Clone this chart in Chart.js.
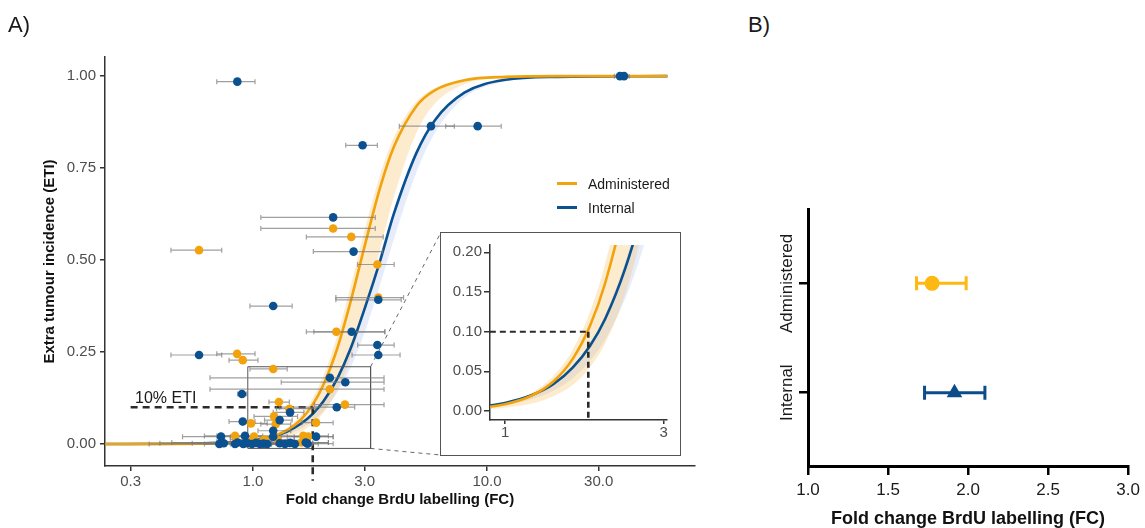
<!DOCTYPE html>
<html><head><meta charset="utf-8">
<script src="https://cdn.jsdelivr.net/npm/chart.js@4.4.1/dist/chart.umd.min.js"></script>
<style>
html,body{margin:0;padding:0;background:#fff;}
#wrap{position:relative;width:1145px;height:528px;overflow:hidden;font-family:"Liberation Sans",Arial,Helvetica,sans-serif;background:#fff;}
canvas{position:absolute;}
.lbl{position:absolute;color:#1a1a1a;white-space:nowrap;line-height:1;}
.leg{position:absolute;height:3px;width:20px;}
#insetBox{position:absolute;left:440px;top:232px;width:239px;height:222px;border:1px solid #555;background:#fff;}
</style></head><body>
<div id="wrap">
<canvas id="cA" style="left:0;top:0" width="720" height="528"></canvas>
<div id="insetBox"><canvas id="cI" style="left:0;top:0" width="239" height="222"></canvas></div>
<canvas id="cB" style="left:740px;top:190px" width="405" height="338"></canvas>
<div class="lbl" style="left:8px;top:14px;font-size:22px;">A)</div>
<div class="lbl" style="left:748px;top:14px;font-size:22px;">B)</div>
<div class="lbl" style="left:135px;top:390px;font-size:16px;">10% ETI</div>
<div class="leg" style="left:557px;top:182px;background:#F2A20C"></div>
<div class="lbl" style="left:588px;top:177px;font-size:14px;">Administered</div>
<div class="leg" style="left:557px;top:206px;background:#0B5190"></div>
<div class="lbl" style="left:588px;top:201px;font-size:14px;">Internal</div>
</div>
<script>
// ---------- DATA ----------
const fcGrid      = [0.233,0.5,0.8,1.0,1.2,1.4,1.6,1.8,2.0,2.3,2.6,3.0,3.5,4.0,5.0,6.0,8.0,12,20,59];
const adminFit    = [0,0.0004,0.0032,0.0086,0.0192,0.0375,0.066,0.107,0.161,0.263,0.382,0.538,0.699,0.808,0.919,0.962,0.989,0.998,1.0,1.0];
const adminLo     = [0,0.0002,0.0016,0.0042,0.0094,0.0187,0.033,0.055,0.085,0.148,0.231,0.362,0.531,0.672,0.847,0.926,0.978,0.996,1.0,1.0];
const adminHi     = [0,0.0005,0.0038,0.0103,0.0228,0.0444,0.0776,0.1245,0.1855,0.298,0.424,0.582,0.734,0.834,0.931,0.968,0.991,0.998,1.0,1.0];
const internalFit = [0,0.0008,0.0045,0.0102,0.0198,0.034,0.055,0.082,0.116,0.180,0.256,0.368,0.5,0.626,0.792,0.881,0.955,0.990,0.998,1.0];
const internalLo  = [0,0.0006,0.0034,0.0077,0.0149,0.026,0.0417,0.063,0.090,0.142,0.205,0.304,0.435,0.557,0.740,0.847,0.941,0.986,0.998,1.0];
const internalHi  = [0,0.0009,0.005,0.0108,0.0208,0.036,0.0574,0.0855,0.121,0.188,0.266,0.380,0.519,0.638,0.80,0.886,0.957,0.991,0.998,1.0];

const adminX   = [0.588,2.20,2.63,3.40,3.43,0.855,0.904,1.22,2.27,2.13,2.47,1.29,1.43,1.23,0.98,1.25,1.86,0.838,1.01,1.64,1.72,1.61,0.98,1.28,1.12,0.93];
const adminY   = [0.527,0.586,0.563,0.488,0.398,0.245,0.228,0.204,0.305,0.149,0.107,0.114,0.096,0.075,0.056,0.054,0.058,0.022,0.020,0.022,0.020,0.004,0.006,0.010,0.012,0.002];
const adminXlo = [0.446,1.08,1.69,2.80,2.26,0.70,0.79,0.97,1.69,0.655,1.83,1.17,1.26,1.01,0.90,1.08,1.62,0.62,0.80,1.32,1.40,1.20,0.70,0.92,0.80,0.40];
const adminXhi = [0.735,3.33,3.60,4.01,4.40,1.02,1.05,1.40,3.66,3.63,3.63,1.43,1.86,1.55,1.15,1.45,2.20,1.10,1.30,2.10,2.20,2.10,1.40,1.60,1.50,1.80];

const intX   = [0.857,2.94,5.76,9.12,37.0,38.5,2.20,2.69,3.43,1.22,2.64,3.40,3.43,0.588,2.13,2.48,0.897,2.28,1.44,0.904,1.30,1.22,0.73,0.924,1.22,1.86,0.718,0.75,0.838,0.86,0.909,0.95,0.99,1.03,1.07,1.11,1.15,1.30,1.37,1.44,1.51,1.68,1.71];
const intY   = [0.985,0.812,0.864,0.864,1.0,1.0,0.616,0.523,0.392,0.375,0.305,0.269,0.242,0.242,0.180,0.168,0.136,0.100,0.086,0.061,0.065,0.036,0.020,0.022,0.020,0.020,0.0,0.002,0.0,0.004,0.0,0.002,0.0,0.003,0.0,0.001,0.0,0.002,0.0,0.003,0.0,0.004,0.001];
const intXlo = [0.70,2.49,4.22,6.66,35.0,36.5,1.08,1.81,2.26,0.97,1.82,2.80,2.65,0.446,0.655,1.32,0.86,1.30,1.22,0.79,1.12,1.05,0.50,0.70,0.90,1.50,0.36,0.55,0.62,0.45,0.70,0.75,0.80,0.82,0.85,0.90,0.95,1.05,1.10,1.15,1.20,1.35,1.40];
const intXhi = [1.02,3.40,7.25,11.5,39.0,40.5,3.33,3.58,4.30,1.47,3.66,4.01,4.25,0.735,3.63,3.63,0.94,2.72,1.65,1.02,1.47,1.45,1.00,1.20,1.60,2.20,1.50,1.00,1.10,1.20,1.20,1.25,1.30,1.35,1.40,1.45,1.50,1.60,1.70,1.80,1.90,2.10,2.20];

const etiLevel = 0.1;
const etiStartFC = 0.3;
const fcAt10 = 1.8;
const zoomX = [0.95,3.18];
const zoomY = [-0.012,0.21];
const connectorEnd = {x:6.34, yTop:0.574, yBottom:-0.03};

const xTicksA = [0.3,1,3,10,30];
const xTickLabelsA = ['0.3','1.0','3.0','10.0','30.0'];
const yTicksA = [0,0.25,0.5,0.75,1];
const yTickLabelsA = ['0.00','0.25','0.50','0.75','1.00'];

const insetXTicks = [1,3];
const insetXTickLabels = ['1','3'];
const insetYTicks = [0,0.05,0.1,0.15,0.2];
const insetYTickLabels = ['0.00','0.05','0.10','0.15','0.20'];
const insetFC10 = 1.78;

const bCategories = ['Internal','Administered'];
const bCatPos = [1,2];
const bMean = [1.915,1.775];
const bLo = [1.728,1.678];
const bHi = [2.105,1.988];
const bXTicks = [1,1.5,2,2.5,3];
const bXTickLabels = ['1.0','1.5','2.0','2.5','3.0'];

// ---------- STYLE ----------
const ORANGE='#F2A20C', BLUE='#0B5190';
const ORANGE_B='#FDB912', BLUE_B='#0C4C8A';
Chart.defaults.font.family = "'Liberation Sans', Arial, Helvetica, sans-serif";
Chart.defaults.color = '#4d4d4d';
Chart.defaults.animation = false;

const pts = (xs, ys) => xs.map((x,i)=>({x, y: ys[i]}));
const hidden = {pointRadius:0, borderWidth:0, fill:false};

function bandSets(){
  return [
    {type:'line', data:pts(fcGrid, internalLo), ...hidden, cubicInterpolationMode:'monotone', order:20},
    {type:'line', data:pts(fcGrid, internalHi), ...hidden, fill:'-1', backgroundColor:'rgba(170,185,240,0.28)', cubicInterpolationMode:'monotone', order:19},
    {type:'line', data:pts(fcGrid, adminLo), ...hidden, cubicInterpolationMode:'monotone', order:18},
    {type:'line', data:pts(fcGrid, adminHi), ...hidden, fill:'-1', backgroundColor:'rgba(245,190,90,0.30)', cubicInterpolationMode:'monotone', order:17},
    {type:'line', data:pts(fcGrid, internalFit), borderColor:BLUE, borderWidth:2.6, pointRadius:0, fill:false, cubicInterpolationMode:'monotone', order:12},
    {type:'line', data:pts(fcGrid, adminFit), borderColor:ORANGE, borderWidth:2.6, pointRadius:0, fill:false, cubicInterpolationMode:'monotone', order:11},
  ];
}

function fixedTicks(vals, labels){
  return {
    afterBuildTicks: s => { s.ticks = vals.map(v=>({value:v})); },
    cb: (v) => { const i = vals.findIndex(t => Math.abs(t - v) < 1e-9); return i>=0 ? labels[i] : ''; }
  };
}

// ---------- PANEL A ----------
const ADMIN_SCATTER_INDEX = 11;
const errPluginA = {
  id:'errA',
  beforeDatasetDraw(chart, args){
    if (args.index !== ADMIN_SCATTER_INDEX) return;
    const {ctx, chartArea:a, scales:{x, y}} = chart;
    ctx.save();
    ctx.beginPath(); ctx.rect(a.left, a.top, a.right-a.left, a.bottom-a.top); ctx.clip();
    ctx.strokeStyle = 'rgba(120,120,120,0.7)'; ctx.lineWidth = 1.2;
    const draw = (xs, ys, lo, hi) => {
      for (let i=0;i<xs.length;i++){
        const yp = y.getPixelForValue(ys[i]);
        const x1 = x.getPixelForValue(lo[i]), x2 = x.getPixelForValue(hi[i]);
        ctx.beginPath();
        ctx.moveTo(x1, yp); ctx.lineTo(x2, yp);
        ctx.moveTo(x1, yp-2.5); ctx.lineTo(x1, yp+2.5);
        ctx.moveTo(x2, yp-2.5); ctx.lineTo(x2, yp+2.5);
        ctx.stroke();
      }
    };
    draw(adminX, adminY, adminXlo, adminXhi);
    draw(intX, intY, intXlo, intXhi);
    ctx.restore();
  }
};

const xA = fixedTicks(xTicksA, xTickLabelsA), yA = fixedTicks(yTicksA, yTickLabelsA);
const DASH = {borderColor:'#2b2b2b', borderWidth:2.6, borderDash:[7,5], pointRadius:0, fill:false, order:5};
new Chart(document.getElementById('cA'), {
  type:'scatter',
  data:{ datasets:[
    ...bandSets(),
    {type:'line', data:[{x:etiStartFC,y:etiLevel},{x:fcAt10,y:etiLevel}], ...DASH},
    {type:'line', data:[{x:fcAt10,y:etiLevel},{x:fcAt10,y:-0.1}], ...DASH, clip:false},
    {type:'line', data:[{x:zoomX[0],y:zoomY[1]},{x:zoomX[1],y:zoomY[1]},{x:zoomX[1],y:zoomY[0]},{x:zoomX[0],y:zoomY[0]},{x:zoomX[0],y:zoomY[1]}],
      borderColor:'#555', borderWidth:1, pointRadius:0, fill:false, order:6},
    {type:'line', data:[{x:zoomX[1],y:zoomY[1]},{x:connectorEnd.x,y:connectorEnd.yTop}], borderColor:'#666', borderWidth:1, borderDash:[4,4], pointRadius:0, fill:false, order:6},
    {type:'line', data:[{x:zoomX[1],y:zoomY[0]},{x:connectorEnd.x,y:connectorEnd.yBottom}], borderColor:'#666', borderWidth:1, borderDash:[4,4], pointRadius:0, fill:false, order:6},
    {label:'Administered', data:pts(adminX, adminY), backgroundColor:ORANGE, borderWidth:0, pointRadius:4.3, order:2},
    {label:'Internal', data:pts(intX, intY), backgroundColor:BLUE, borderWidth:0, pointRadius:4.3, order:1},
  ]},
  options:{
    responsive:false, animation:false,
    layout:{padding:{left:0, top:57, right:25, bottom:0}},
    plugins:{legend:{display:false}, tooltip:{enabled:false}},
    scales:{
      x:{type:'logarithmic', min:0.2331, max:77.4,
        afterBuildTicks:xA.afterBuildTicks, afterFit:s=>{s.height=62;},
        ticks:{callback:xA.cb, autoSkip:false, maxRotation:0, padding:2, font:{size:15}, color:'#4d4d4d'},
        grid:{drawOnChartArea:false, tickLength:5, color:'#333', lineWidth:1.5},
        border:{display:true, color:'#333', width:1.5},
        title:{display:true, text:'Fold change BrdU labelling (FC)', color:'#111', font:{size:15, weight:'bold'}, padding:{top:0,bottom:19}}
      },
      y:{type:'linear', min:-0.0598, max:1.052,
        afterBuildTicks:yA.afterBuildTicks, afterFit:s=>{s.width=105;},
        ticks:{callback:yA.cb, autoSkip:false, padding:4, font:{size:15}, color:'#4d4d4d'},
        grid:{drawOnChartArea:false, tickLength:5, color:'#333', lineWidth:1.5},
        border:{display:true, color:'#333', width:1.5},
        title:{display:true, text:'Extra tumour incidence (ETI)', color:'#111', font:{size:15, weight:'bold'}, padding:{top:41,bottom:0}}
      }
    }
  },
  plugins:[errPluginA]
});

// ---------- INSET ----------
const xI = fixedTicks(insetXTicks, insetXTickLabels), yI = fixedTicks(insetYTicks, insetYTickLabels);
new Chart(document.getElementById('cI'), {
  type:'scatter',
  data:{ datasets:[
    ...bandSets(),
    {type:'line', data:[{x:0.9,y:etiLevel},{x:insetFC10,y:etiLevel}], ...DASH, borderWidth:2, borderDash:[6,4]},
    {type:'line', data:[{x:insetFC10,y:etiLevel},{x:insetFC10,y:-0.0113}], ...DASH, borderWidth:2.6, borderDash:[6,4]},
  ]},
  options:{
    responsive:false, animation:false,
    layout:{padding:{left:0, top:12, right:13, bottom:0}},
    plugins:{legend:{display:false}, tooltip:{enabled:false}},
    scales:{
      x:{type:'logarithmic', min:0.901, max:3.07,
        afterBuildTicks:xI.afterBuildTicks, afterFit:s=>{s.height=35;},
        ticks:{callback:xI.cb, autoSkip:false, maxRotation:0, padding:0, font:{size:15}, color:'#4d4d4d'},
        grid:{drawOnChartArea:false, tickLength:4, color:'#333', lineWidth:1.5},
        border:{display:true, color:'#333', width:1.5}
      },
      y:{type:'linear', min:-0.0113, max:0.2092,
        afterBuildTicks:yI.afterBuildTicks, afterFit:s=>{s.width=49;},
        ticks:{callback:yI.cb, autoSkip:false, padding:2, font:{size:15}, color:'#4d4d4d'},
        grid:{drawOnChartArea:false, tickLength:6, color:'#333', lineWidth:1.5},
        border:{display:true, color:'#333', width:1.5}
      }
    }
  }
});

// ---------- PANEL B ----------
const xB = fixedTicks(bXTicks, bXTickLabels);
const errPluginB = {
  id:'errB',
  beforeDatasetsDraw(chart){
    const {ctx, scales:{x, y}} = chart;
    const cols = [BLUE_B, ORANGE_B];
    ctx.save(); ctx.lineWidth = 3;
    for (let i=0;i<bMean.length;i++){
      const yp = y.getPixelForValue(bCatPos[i]);
      const x1 = x.getPixelForValue(bLo[i]), x2 = x.getPixelForValue(bHi[i]);
      ctx.strokeStyle = cols[i];
      ctx.beginPath();
      ctx.moveTo(x1, yp); ctx.lineTo(x2, yp);
      ctx.moveTo(x1, yp-7); ctx.lineTo(x1, yp+7);
      ctx.moveTo(x2, yp-7); ctx.lineTo(x2, yp+7);
      ctx.stroke();
    }
    ctx.restore();
  },
  afterDraw(chart){
    const {ctx, scales:{y}} = chart;
    ctx.save();
    ctx.fillStyle = '#1a1a1a';
    ctx.font = "17px 'Liberation Sans', Arial, sans-serif";
    ctx.textAlign = 'center'; ctx.textBaseline = 'middle';
    for (let i=0;i<bCategories.length;i++){
      ctx.save();
      ctx.translate(47, y.getPixelForValue(bCatPos[i]));
      ctx.rotate(-Math.PI/2);
      ctx.fillText(bCategories[i], 0, 0);
      ctx.restore();
    }
    ctx.restore();
  }
};
new Chart(document.getElementById('cB'), {
  type:'scatter',
  data:{ datasets:[
    {label:'Internal', data:[{x:bMean[0], y:bCatPos[0]}], pointStyle:'triangle', pointRadius:9, backgroundColor:BLUE_B, borderColor:BLUE_B, borderWidth:0},
    {label:'Administered', data:[{x:bMean[1], y:bCatPos[1]}], pointStyle:'circle', pointRadius:7.5, backgroundColor:ORANGE_B, borderColor:ORANGE_B, borderWidth:0},
  ]},
  options:{
    responsive:false, animation:false,
    layout:{padding:{left:0, top:19, right:13, bottom:0}},
    plugins:{legend:{display:false}, tooltip:{enabled:false}},
    scales:{
      x:{type:'linear', min:1, max:3,
        afterBuildTicks:xB.afterBuildTicks, afterFit:s=>{s.height=62;},
        ticks:{callback:xB.cb, autoSkip:false, maxRotation:0, padding:5, font:{size:17}, color:'#1a1a1a'},
        grid:{drawOnChartArea:false, tickLength:9, color:'#000', lineWidth:2.5},
        border:{display:true, color:'#000', width:3},
        title:{display:true, text:'Fold change BrdU labelling (FC)', color:'#111', font:{size:18, weight:'bold', lineHeight:1}, padding:{top:0,bottom:0}}
      },
      y:{type:'linear', min:0.33, max:2.68,
        afterBuildTicks:s=>{ s.ticks = bCatPos.map(v=>({value:v})); }, afterFit:s=>{s.width=68;},
        ticks:{display:false},
        grid:{drawOnChartArea:false, tickLength:9, color:'#000', lineWidth:2.5},
        border:{display:true, color:'#000', width:3}
      }
    }
  },
  plugins:[errPluginB]
});
</script>
</body></html>
